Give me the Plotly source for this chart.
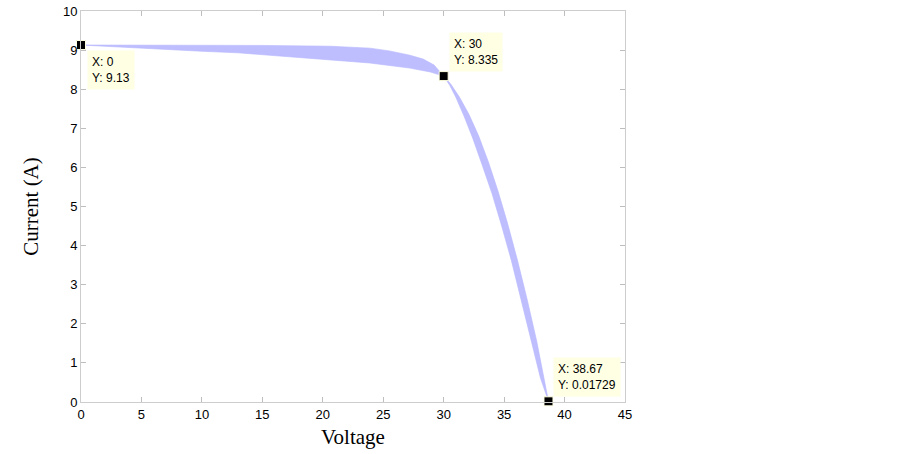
import plotly.graph_objects as go

# Outer (upper/right) edge of the I-V curve band
outer_v = [0, 5, 10, 15, 20.6, 23.9, 25.5, 27.2, 28.3, 29.2, 30,
           30.6, 31.3, 32.1, 32.9, 33.7, 34.5, 35.3, 36.1, 36.9, 37.7, 38.67]
outer_i = [9.13, 9.13, 9.13, 9.12, 9.10, 9.05, 8.98, 8.87, 8.77, 8.62, 8.335,
           8.125, 7.80, 7.35, 6.80, 6.14, 5.39, 4.55, 3.63, 2.63, 1.55, 0.01729]
# Inner (lower/left) edge of the band
inner_v = [0, 3, 6, 10, 13, 17, 20.6, 23.9, 27.2, 28.9, 30,
           30.5, 31.0, 31.7, 32.4, 33.2, 34.0, 34.8, 35.6, 36.4, 37.2, 38.0, 38.67]
inner_i = [9.13, 9.08, 9.03, 8.97, 8.93, 8.84, 8.75, 8.67, 8.54, 8.44, 8.335,
           8.10, 7.80, 7.30, 6.75, 6.05, 5.33, 4.50, 3.62, 2.65, 1.62, 0.62, 0.01729]

# Data tips
tip_v = [0, 30, 38.67]
tip_i = [9.13, 8.335, 0.01729]
tip_text = ["X: 0<br>Y: 9.13", "X: 30<br>Y: 8.335", "X: 38.67<br>Y: 0.01729"]

x_ticks = [0, 5, 10, 15, 20, 25, 30, 35, 40, 45]
y_ticks = [0, 1, 2, 3, 4, 5, 6, 7, 8, 9, 10]

band_v = outer_v + inner_v[::-1]
band_i = outer_i + inner_i[::-1]

fig = go.Figure()
fig.add_trace(go.Scatter(
    x=band_v, y=band_i, mode="lines", fill="toself",
    fillcolor="rgb(190,190,255)",
    line=dict(color="rgb(182,182,255)", width=0.6),
    hoverinfo="skip", showlegend=False,
))
fig.add_trace(go.Scatter(
    x=tip_v, y=tip_i, mode="markers",
    marker=dict(symbol="square", size=9, color="black",
                line=dict(color="rgb(255,255,225)", width=1)),
    cliponaxis=False, showlegend=False, hoverinfo="skip",
))

placements = [
    dict(xanchor="left", yanchor="top", xshift=6, yshift=-5),
    dict(xanchor="left", yanchor="bottom", xshift=5, yshift=4),
    dict(xanchor="left", yanchor="bottom", xshift=5, yshift=4),
]
for v, i, t, p in zip(tip_v, tip_i, tip_text, placements):
    fig.add_annotation(
        x=v, y=i, text=t, showarrow=False, align="left",
        bgcolor="rgb(255,255,228)", borderpad=4,
        font=dict(family="Liberation Sans, Arial", size=12, color="black"),
        **p,
    )

axis_common = dict(
    showgrid=False, zeroline=False, showline=True, mirror="ticks",
    linecolor="rgb(205,205,205)", linewidth=1,
    ticks="inside", ticklen=5, tickcolor="rgb(190,190,190)", tickwidth=1,
    tickfont=dict(family="Liberation Sans, Arial", size=13, color="black"),
    automargin=False,
)

fig.update_layout(
    width=899, height=454,
    margin=dict(l=81, r=274, t=11, b=52),
    paper_bgcolor="white", plot_bgcolor="white",
    xaxis=dict(range=[0, 45], tickvals=x_ticks, ticktext=[str(v) for v in x_ticks],
               title=dict(text="Voltage", standoff=8,
                          font=dict(family="Liberation Serif, Times New Roman", size=21, color="black")),
               **axis_common),
    yaxis=dict(range=[0, 10], tickvals=y_ticks, ticktext=[str(v) for v in y_ticks],
               title=dict(text="Current (A)", standoff=18,
                          font=dict(family="Liberation Serif, Times New Roman", size=21, color="black")),
               **axis_common),
)

fig.write_html("out.html", config={"displayModeBar": False},
               post_script="document.body.style.margin='0px';")
